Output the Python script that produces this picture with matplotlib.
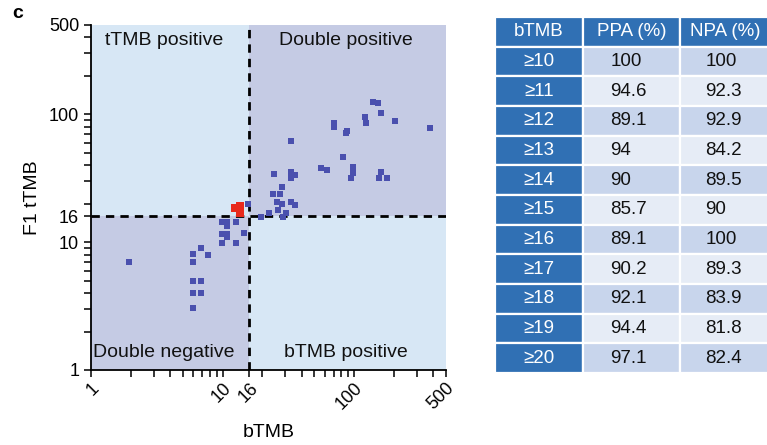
import matplotlib
matplotlib.use('Agg')
import matplotlib.pyplot as plt
from matplotlib.patches import Rectangle

plt.rcParams['font.family'] = ['Liberation Sans', 'DejaVu Sans']

# bTMB vs F1 tTMB per sample
btmb = [1.96, 5.94, 5.94, 6.87, 7.77, 5.94, 6.87, 5.94, 6.87, 5.94,
        9.9, 12.6, 9.9, 10.8, 10.8, 14.6, 9.9, 10.8, 10.8, 12.6,
        15.7, 19.6, 22.6, 26.4, 30.5, 28.8, 28.3, 24.4, 27.4, 25.9,
        28.3, 33.1, 35.7, 24.6, 33.1, 35.7, 33.1, 33.1, 56, 62.2,
        82.8, 97.5, 97.5, 95, 161, 154, 177, 70.7, 70.7, 86.8,
        88, 121.7, 123, 139, 152, 161, 205, 380]
ttmb = [7.0, 8.1, 7.0, 9.0, 8.0, 5.0, 5.0, 4.0, 4.0, 3.06,
        9.8, 9.8, 11.6, 11.6, 10.9, 11.9, 14.5, 14.5, 13.5, 14.5,
        19.9, 15.6, 16.8, 17.8, 16.8, 15.8, 26.8, 23.8, 23.8, 20.7,
        19.9, 20.7, 19.7, 34.4, 35.5, 33.8, 32, 61.8, 38.3, 36.8,
        46.7, 39, 35, 31.5, 35.5, 32, 32, 85.9, 80, 71.8,
        74, 95, 86, 125, 123, 103, 88, 78.5]
red_btmb = [12.5, 13.6, 13.6]
red_ttmb = [18.5, 19.2, 17.0]

cutoff = 16
ticks = [1, 10, 16, 100, 500]

# agreement table
thresholds = ['≥10', '≥11', '≥12', '≥13', '≥14', '≥15', '≥16', '≥17', '≥18', '≥19', '≥20']
ppa = ['100', '94.6', '89.1', '94', '90', '85.7', '89.1', '90.2', '92.1', '94.4', '97.1']
npa = ['100', '92.3', '92.9', '84.2', '89.5', '90', '100', '89.3', '83.9', '81.8', '82.4']
header = ['bTMB', 'PPA (%)', 'NPA (%)']

light = '#d7e7f5'
lav = '#c5cbe4'
blue = '#4a50ae'
red = '#e8291c'
dark = '#3070b4'
row_a = '#c8d5ec'
row_b = '#e6ecf6'

fig = plt.figure(figsize=(7.67, 4.45), dpi=100)
ax = fig.add_axes([91 / 767, 75 / 445, 355 / 767, 345 / 445])
ax.set_xscale('log')
ax.set_yscale('log')
ax.set_xlim(1, 500)
ax.set_ylim(1, 500)

# quadrant backgrounds
ax.add_patch(Rectangle((1, 1), cutoff - 1, cutoff - 1, color=lav, zorder=0, lw=0))
ax.add_patch(Rectangle((cutoff, cutoff), 500 - cutoff, 500 - cutoff, color=lav, zorder=0, lw=0))
ax.add_patch(Rectangle((1, cutoff), cutoff - 1, 500 - cutoff, color=light, zorder=0, lw=0))
ax.add_patch(Rectangle((cutoff, 1), 500 - cutoff, cutoff - 1, color=light, zorder=0, lw=0))

ax.axvline(cutoff, color='black', lw=2, ls=(0, (3, 2.2)), zorder=2)
ax.axhline(cutoff, color='black', lw=2, ls=(0, (3, 2.2)), zorder=2)

ax.scatter(btmb, ttmb, marker='s', s=24, color=blue, linewidths=0, zorder=3)
ax.scatter(red_btmb, red_ttmb, marker='s', s=30, color=red, linewidths=0, zorder=4)

kw = dict(fontsize=14, ha='center', va='center', color='#111111')
ax.text(3.6, 380, 'tTMB positive', **kw)
ax.text(86, 380, 'Double positive', **kw)
ax.text(3.6, 1.38, 'Double negative', **kw)
ax.text(86, 1.38, 'bTMB positive', **kw)

for s in ['top', 'right']:
    ax.spines[s].set_visible(False)
for s in ['left', 'bottom']:
    ax.spines[s].set_linewidth(1.3)

ax.set_xticks(ticks)
ax.set_xticklabels([str(t) for t in ticks], rotation=45, ha='right',
                   rotation_mode='anchor')
ax.set_yticks(ticks)
ax.set_yticklabels([str(t) for t in ticks])
ax.tick_params(which='both', length=5, width=1.1, labelsize=13)
ax.tick_params(axis='x', pad=2)
ax.set_xlabel('bTMB', fontsize=14, labelpad=8)
ax.set_ylabel('F1 tTMB', fontsize=14, labelpad=6)

fig.text(12 / 767, 1 - 14 / 445, 'c', fontsize=14, fontweight='bold', va='center')

# table on the right
tax = fig.add_axes([495 / 767, 72 / 445, 275 / 767, 356 / 445])
tax.axis('off')
cells = [[t, p, n] for t, p, n in zip(thresholds, ppa, npa)]
colours = []
for i in range(len(cells)):
    c = row_a if i % 2 == 0 else row_b
    colours.append([dark, c, c])
tbl = tax.table(cellText=cells, colLabels=header, cellColours=colours,
                colColours=[dark] * 3, colWidths=[88, 97, 90],
                bbox=[0, 0, 1, 1])
tbl.auto_set_font_size(False)
for (r, c), cell in tbl.get_celld().items():
    cell.set_edgecolor('white')
    cell.set_linewidth(1.6)
    txt = cell.get_text()
    txt.set_fontsize(13.5)
    if r == 0 or c == 0:
        txt.set_color('white')
        cell._loc = 'center'
    else:
        txt.set_color('#111111')
        cell._loc = 'left'
        cell.PAD = 0.28
    txt.set_ha(cell._loc)

fig.savefig('out.png', dpi=100)
